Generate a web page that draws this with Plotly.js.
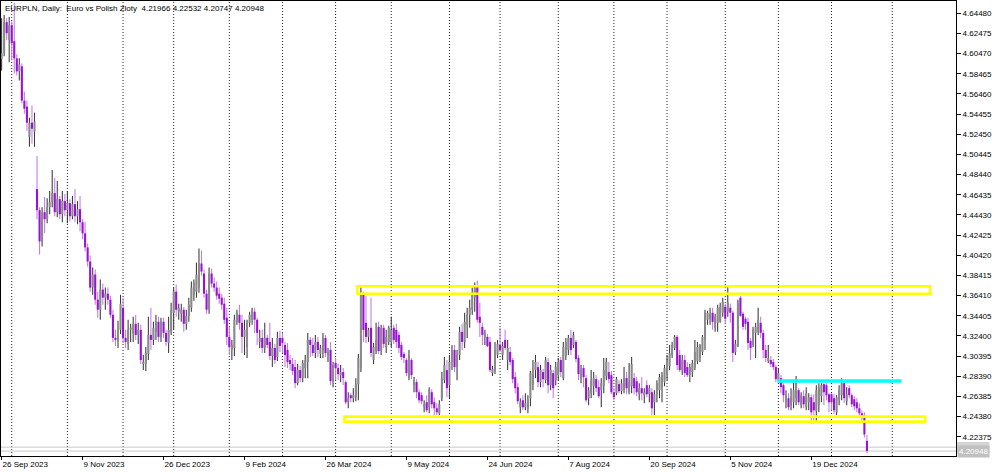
<!DOCTYPE html>
<html>
<head>
<meta charset="utf-8">
<script src="https://cdn.plot.ly/plotly-3.0.1.min.js"></script>
<style>
html,body{margin:0;padding:0;background:#fff;}
#chart{width:1000px;height:472px;}
</style>
</head>
<body>
<div id="chart"></div>
<script>
// ---------- DATA ----------
const symbolName = 'EURPLN';
const periodName = 'Daily';
const symbolDesc = 'Euro vs Polish Zloty';
const firstTradingDay = '2023-09-26';
const holidays = ['2023-12-25','2024-01-01','2024-12-25','2025-01-01'];

const openP = [
4.599,4.605,4.636,4.618,4.633,4.617,4.600,4.587,4.592,4.558,
4.552,4.522,4.536,4.527,4.470,4.449,4.418,4.447,4.440,4.452,
4.457,4.466,4.447,4.460,4.445,4.458,4.449,4.456,4.443,4.455,
4.443,4.450,4.437,4.426,4.412,4.398,4.372,4.385,4.360,4.350,
4.370,4.362,4.366,4.360,4.345,4.322,4.318,4.330,4.352,4.322,
4.316,4.330,4.326,4.336,4.325,4.330,4.296,4.296,4.306,4.325,
4.320,4.328,4.338,4.323,4.338,4.327,4.317,4.328,4.347,4.368,
4.348,4.346,4.350,4.336,4.344,4.352,4.365,4.368,4.372,4.396,
4.386,4.366,4.350,4.386,4.376,4.372,4.366,4.362,4.356,4.342,
4.323,4.310,4.312,4.338,4.345,4.337,4.323,4.313,4.337,4.340,
4.348,4.340,4.318,4.322,4.312,4.322,4.318,4.304,4.312,4.303,
4.322,4.322,4.315,4.310,4.300,4.296,4.293,4.277,4.290,4.282,
4.292,4.298,4.320,4.315,4.307,4.318,4.306,4.310,4.322,4.305,
4.310,4.279,4.297,4.292,4.285,4.288,4.278,4.258,4.265,4.262,
4.263,4.276,4.292,4.365,4.337,4.323,4.332,4.300,4.309,4.333,
4.309,4.332,4.313,4.318,4.318,4.332,4.330,4.325,4.315,4.306,
4.300,4.282,4.300,4.275,4.278,4.268,4.265,4.253,4.258,4.253,
4.268,4.258,4.252,4.247,4.262,4.280,4.290,4.275,4.298,4.310,
4.293,4.305,4.328,4.318,4.335,4.345,4.350,4.362,4.374,4.343,
4.333,4.322,4.323,4.318,4.287,4.289,4.305,4.315,4.305,4.320,
4.300,4.308,4.300,4.283,4.273,4.253,4.260,4.253,4.251,4.262,
4.275,4.290,4.293,4.278,4.288,4.280,4.298,4.275,4.287,4.280,
4.285,4.300,4.282,4.304,4.310,4.322,4.315,4.318,4.302,4.281,
4.292,4.282,4.262,4.267,4.274,4.281,4.273,4.270,4.274,4.284,
4.288,4.285,4.268,4.267,4.276,4.269,4.270,4.282,4.268,4.274,
4.282,4.279,4.266,4.272,4.265,4.275,4.266,4.268,4.258,4.266,
4.270,4.273,4.278,4.285,4.294,4.305,4.312,4.323,4.305,4.290,
4.300,4.293,4.285,4.288,4.292,4.299,4.302,4.308,4.320,4.340,
4.341,4.347,4.332,4.337,4.338,4.347,4.353,4.348,4.352,4.347,
4.308,4.314,4.362,4.346,4.341,4.338,4.319,4.315,4.327,4.328,
4.337,4.327,4.310,4.299,4.300,4.298,4.293,4.280,4.282,4.275,
4.258,4.262,4.255,4.258,4.262,4.270,4.255,4.264,4.253,4.258,
4.263,4.258,4.249,4.255,4.264,4.276,4.275,4.266,4.266,4.262,
4.248,4.260,4.265,4.277,4.259,4.272,4.265,4.261,4.258,4.252,
4.247,4.245,4.21966
];
const highP = [
4.640,4.643,4.640,4.641,4.637,4.655,4.604,4.600,4.595,4.567,
4.558,4.541,4.553,4.546,4.503,4.452,4.452,4.462,4.461,4.468,
4.489,4.481,4.478,4.463,4.468,4.465,4.468,4.460,4.463,4.470,
4.458,4.463,4.440,4.437,4.416,4.404,4.392,4.390,4.368,4.380,
4.376,4.372,4.372,4.364,4.350,4.330,4.339,4.365,4.362,4.330,
4.340,4.336,4.343,4.345,4.337,4.335,4.305,4.313,4.343,4.352,
4.338,4.345,4.343,4.342,4.342,4.330,4.343,4.357,4.372,4.375,
4.356,4.356,4.353,4.350,4.362,4.378,4.380,4.397,4.411,4.409,
4.390,4.370,4.392,4.391,4.382,4.378,4.372,4.366,4.362,4.352,
4.333,4.320,4.345,4.350,4.355,4.345,4.340,4.340,4.348,4.352,
4.352,4.342,4.330,4.330,4.337,4.325,4.337,4.322,4.316,4.328,
4.329,4.327,4.318,4.317,4.305,4.302,4.300,4.296,4.294,4.300,
4.305,4.327,4.323,4.322,4.325,4.323,4.315,4.327,4.325,4.312,
4.318,4.298,4.302,4.296,4.295,4.292,4.280,4.268,4.267,4.272,
4.282,4.306,4.372,4.368,4.364,4.332,4.362,4.317,4.337,4.338,
4.335,4.335,4.330,4.334,4.343,4.335,4.336,4.328,4.318,4.308,
4.302,4.310,4.302,4.283,4.281,4.271,4.268,4.260,4.265,4.273,
4.271,4.263,4.257,4.260,4.288,4.303,4.300,4.305,4.315,4.315,
4.310,4.333,4.336,4.347,4.352,4.360,4.372,4.377,4.379,4.357,
4.337,4.330,4.326,4.323,4.294,4.318,4.320,4.332,4.318,4.330,
4.320,4.313,4.302,4.288,4.277,4.262,4.265,4.267,4.265,4.289,
4.300,4.305,4.298,4.295,4.291,4.303,4.302,4.295,4.290,4.298,
4.302,4.303,4.318,4.322,4.325,4.330,4.328,4.320,4.305,4.295,
4.295,4.285,4.273,4.290,4.288,4.285,4.280,4.282,4.302,4.302,
4.298,4.289,4.272,4.283,4.280,4.281,4.293,4.288,4.297,4.303,
4.287,4.283,4.277,4.283,4.272,4.280,4.275,4.272,4.270,4.280,
4.286,4.288,4.295,4.305,4.315,4.318,4.325,4.325,4.310,4.305,
4.305,4.298,4.296,4.300,4.320,4.318,4.316,4.325,4.350,4.349,
4.352,4.352,4.346,4.355,4.357,4.362,4.356,4.373,4.356,4.349,
4.320,4.360,4.364,4.348,4.343,4.342,4.322,4.333,4.337,4.352,
4.343,4.330,4.315,4.315,4.304,4.301,4.295,4.292,4.285,4.277,
4.270,4.267,4.272,4.278,4.284,4.272,4.268,4.270,4.273,4.267,
4.266,4.266,4.275,4.277,4.277,4.279,4.277,4.267,4.267,4.266,
4.265,4.275,4.282,4.280,4.273,4.275,4.267,4.264,4.262,4.257,
4.250,4.248,4.22532
];
const lowP = [
4.588,4.602,4.618,4.596,4.598,4.585,4.583,4.578,4.555,4.545,
4.528,4.512,4.515,4.512,4.440,4.405,4.413,4.426,4.436,4.445,
4.452,4.443,4.442,4.440,4.437,4.443,4.436,4.438,4.440,4.437,
4.435,4.428,4.420,4.408,4.393,4.368,4.365,4.355,4.342,4.340,
4.355,4.350,4.355,4.342,4.318,4.314,4.312,4.326,4.317,4.312,
4.310,4.318,4.318,4.320,4.316,4.296,4.290,4.289,4.300,4.310,
4.315,4.320,4.318,4.318,4.322,4.314,4.307,4.325,4.330,4.343,
4.340,4.338,4.328,4.330,4.338,4.348,4.359,4.362,4.367,4.384,
4.362,4.346,4.346,4.372,4.368,4.360,4.356,4.350,4.336,4.315,
4.305,4.300,4.304,4.335,4.330,4.307,4.305,4.302,4.333,4.335,
4.327,4.315,4.312,4.307,4.307,4.312,4.300,4.293,4.296,4.299,
4.308,4.307,4.293,4.292,4.290,4.285,4.272,4.275,4.278,4.278,
4.282,4.282,4.303,4.304,4.302,4.303,4.302,4.302,4.303,4.298,
4.275,4.273,4.280,4.280,4.278,4.275,4.256,4.252,4.258,4.258,
4.259,4.260,4.288,4.318,4.317,4.318,4.303,4.296,4.306,4.306,
4.305,4.312,4.307,4.315,4.313,4.316,4.312,4.307,4.300,4.297,
4.284,4.280,4.281,4.268,4.262,4.257,4.256,4.248,4.248,4.247,
4.252,4.245,4.245,4.245,4.259,4.277,4.263,4.262,4.290,4.288,
4.280,4.300,4.310,4.312,4.322,4.332,4.345,4.348,4.337,4.323,
4.315,4.315,4.313,4.288,4.284,4.286,4.302,4.308,4.300,4.310,
4.290,4.295,4.277,4.267,4.256,4.247,4.250,4.250,4.247,4.254,
4.270,4.282,4.273,4.273,4.273,4.277,4.267,4.270,4.262,4.275,
4.280,4.283,4.280,4.300,4.305,4.305,4.312,4.298,4.280,4.277,
4.273,4.258,4.255,4.262,4.265,4.268,4.262,4.253,4.267,4.280,
4.277,4.266,4.260,4.265,4.267,4.266,4.267,4.266,4.266,4.267,
4.266,4.264,4.260,4.260,4.257,4.263,4.258,4.245,4.245,4.258,
4.262,4.258,4.274,4.280,4.290,4.302,4.310,4.290,4.288,4.285,
4.283,4.283,4.278,4.283,4.290,4.296,4.298,4.305,4.310,4.335,
4.335,4.330,4.328,4.328,4.337,4.343,4.336,4.343,4.337,4.298,
4.305,4.313,4.343,4.330,4.330,4.310,4.300,4.313,4.302,4.325,
4.322,4.302,4.298,4.297,4.293,4.290,4.278,4.278,4.267,4.258,
4.252,4.250,4.250,4.252,4.255,4.255,4.252,4.252,4.250,4.250,
4.237,4.237,4.238,4.248,4.258,4.255,4.260,4.248,4.250,4.246,
4.245,4.255,4.260,4.257,4.255,4.262,4.253,4.250,4.248,4.242,
4.238,4.223,4.20747
];
const closeP = [
4.605,4.636,4.625,4.633,4.615,4.600,4.587,4.594,4.558,4.550,
4.536,4.536,4.530,4.537,4.449,4.418,4.447,4.440,4.452,4.457,
4.466,4.447,4.460,4.445,4.458,4.449,4.456,4.443,4.455,4.443,
4.450,4.437,4.426,4.412,4.398,4.372,4.385,4.360,4.350,4.370,
4.362,4.366,4.360,4.345,4.322,4.320,4.330,4.356,4.322,4.318,
4.330,4.332,4.336,4.325,4.330,4.300,4.298,4.307,4.325,4.320,
4.332,4.338,4.323,4.338,4.327,4.318,4.330,4.350,4.368,4.350,
4.352,4.350,4.336,4.344,4.355,4.372,4.377,4.385,4.396,4.388,
4.366,4.350,4.386,4.376,4.372,4.364,4.361,4.355,4.340,4.323,
4.313,4.315,4.340,4.347,4.337,4.323,4.330,4.337,4.345,4.350,
4.340,4.327,4.322,4.312,4.322,4.315,4.304,4.312,4.300,4.322,
4.314,4.317,4.305,4.298,4.296,4.289,4.277,4.290,4.282,4.297,
4.300,4.320,4.315,4.307,4.318,4.310,4.312,4.322,4.307,4.308,
4.279,4.295,4.292,4.286,4.288,4.282,4.258,4.262,4.262,4.265,
4.276,4.302,4.365,4.330,4.323,4.330,4.307,4.313,4.320,4.309,
4.332,4.316,4.323,4.332,4.330,4.320,4.318,4.312,4.303,4.302,
4.287,4.305,4.285,4.280,4.268,4.260,4.259,4.256,4.250,4.271,
4.256,4.252,4.248,4.256,4.282,4.295,4.272,4.298,4.310,4.293,
4.305,4.328,4.318,4.338,4.345,4.352,4.365,4.372,4.340,4.337,
4.325,4.327,4.314,4.290,4.291,4.310,4.316,4.310,4.314,4.312,
4.312,4.298,4.281,4.272,4.259,4.258,4.253,4.257,4.261,4.287,
4.290,4.298,4.278,4.290,4.281,4.300,4.275,4.290,4.272,4.293,
4.298,4.288,4.313,4.318,4.322,4.310,4.325,4.301,4.286,4.290,
4.283,4.260,4.270,4.280,4.282,4.272,4.264,4.277,4.290,4.298,
4.281,4.268,4.263,4.281,4.269,4.277,4.282,4.272,4.278,4.296,
4.272,4.268,4.272,4.267,4.268,4.266,4.272,4.252,4.266,4.277,
4.283,4.285,4.292,4.300,4.307,4.315,4.323,4.295,4.290,4.300,
4.287,4.285,4.293,4.297,4.308,4.313,4.315,4.323,4.347,4.347,
4.346,4.338,4.343,4.352,4.353,4.358,4.341,4.357,4.347,4.307,
4.316,4.357,4.344,4.333,4.336,4.317,4.312,4.330,4.333,4.340,
4.327,4.310,4.302,4.302,4.296,4.293,4.281,4.287,4.273,4.265,
4.265,4.253,4.263,4.270,4.280,4.258,4.265,4.256,4.267,4.263,
4.248,4.250,4.270,4.273,4.275,4.268,4.265,4.258,4.258,4.250,
4.263,4.270,4.277,4.262,4.266,4.265,4.256,4.254,4.252,4.247,
4.243,4.226,4.20948
];

const xTickLabels = ['26 Sep 2023','9 Nov 2023','26 Dec 2023','9 Feb 2024','26 Mar 2024','9 May 2024',
  '24 Jun 2024','7 Aug 2024','20 Sep 2024','5 Nov 2024','19 Dec 2024'];
const yTickValues = [4.22375,4.24380,4.26385,4.28390,4.30395,4.32400,4.34405,4.36410,4.38415,4.40420,4.42425,
  4.44430,4.46435,4.48440,4.50445,4.52450,4.54455,4.56460,4.58465,4.60470,4.62475,4.64480];
const bidPrice = 4.20948;
const askPrice = 4.21335;

// user-drawn objects (bar-index positions, price levels)
const zoneStart = [140.6, 135.5];
const zoneEnd = [367.0, 365.0];
const zoneLow = [4.3659, 4.2387];
const zoneHigh = [4.3734, 4.2437];
const levelStart = 306.6, levelEnd = 355.7, levelPrice = 4.2791;

// ---------- BUILD ----------
const N = closeP.length;
const monthNames = ['Jan','Feb','Mar','Apr','May','Jun','Jul','Aug','Sep','Oct','Nov','Dec'];
const dates = [];
(function(){
  const d = new Date(firstTradingDay + 'T00:00:00Z');
  while (dates.length < N) {
    const wd = d.getUTCDay();
    const iso = d.toISOString().slice(0,10);
    if (wd !== 0 && wd !== 6 && holidays.indexOf(iso) < 0) dates.push(new Date(d.getTime()));
    d.setUTCDate(d.getUTCDate() + 1);
  }
})();
const fmt = d => d.getUTCDate() + ' ' + monthNames[d.getUTCMonth()] + ' ' + d.getUTCFullYear();

const xMin = -0.24, xMax = 377.2;
const yMin = 4.20456, yMax = 4.65703;

const tickVals = xTickLabels.map(lbl => dates.findIndex(d => fmt(d) === lbl));

// month grid lines
const gridIdx = [];
for (let i = 1; i < N; i++) if (dates[i].getUTCMonth() !== dates[i-1].getUTCMonth()) gridIdx.push(i);
(function(){
  const last = dates[N-1];
  let m = new Date(Date.UTC(last.getUTCFullYear(), last.getUTCMonth() + 1, 1));
  while (true) {
    const pos = (N - 1) + Math.round((m - last) / 86400000);
    if (pos > xMax) break;
    gridIdx.push(pos);
    m = new Date(Date.UTC(m.getUTCFullYear(), m.getUTCMonth() + 1, 1));
  }
})();

const up = {wx:[], wb:[], wh:[], bx:[], bb:[], bh:[]};
const dn = {wx:[], wb:[], wh:[], bx:[], bb:[], bh:[]};
for (let i = 0; i < N; i++) {
  const g = closeP[i] >= openP[i] ? up : dn;
  g.wx.push(i); g.wb.push(lowP[i]); g.wh.push(highP[i] - lowP[i]);
  const lo = Math.min(openP[i], closeP[i]);
  g.bx.push(i); g.bb.push(lo); g.bh.push(Math.max(Math.abs(closeP[i] - openP[i]), 0.0007));
}

const barTrace = (x, base, h, w, color) => ({
  type:'bar', x:x, base:base, y:h, width:w,
  marker:{color:color, line:{width:0}}, hoverinfo:'skip', showlegend:false
});

const traces = [
  barTrace(up.wx, up.wb, up.wh, 0.42, '#3a3a3a'),
  barTrace(dn.wx, dn.wb, dn.wh, 0.42, '#c37ae9'),
  barTrace(up.bx, up.bb, up.bh, 0.82, '#8a8a8a'),
  barTrace(dn.bx, dn.bb, dn.bh, 0.82, '#9a10d8')
];

const shapes = [];
gridIdx.forEach(g => shapes.push({type:'line', xref:'x', yref:'paper', x0:g, x1:g, y0:0, y1:1,
  line:{color:'#222', width:1, dash:'1px,2px'}, layer:'below'}));
[askPrice, bidPrice].forEach(p => shapes.push({type:'line', xref:'paper', yref:'y', x0:0, x1:1, y0:p, y1:p,
  line:{color:'#c8c8c8', width:1}, layer:'below'}));
for (let k = 0; k < zoneStart.length; k++) {
  shapes.push({type:'rect', xref:'x', yref:'y', x0:zoneStart[k], x1:zoneEnd[k], y0:zoneLow[k], y1:zoneHigh[k],
    line:{color:'#ffff00', width:2.6}, fillcolor:'rgba(0,0,0,0)', layer:'above'});
}
shapes.push({type:'line', xref:'x', yref:'y', x0:levelStart, x1:levelEnd, y0:levelPrice, y1:levelPrice,
  line:{color:'#00ffff', width:3.4}, layer:'above'});
// ask price tag box, mostly hidden behind the bid tag (as in the reference)
shapes.push({type:'rect', xref:'paper', yref:'y', x0:1.001, x1:1.035, y0:askPrice - 0.0052, y1:askPrice + 0.0052,
  line:{width:0}, fillcolor:'#d4d4d4', layer:'above'});

const L = N - 1;
const headText = symbolName + ', ' + periodName + ':\u00a0\u00a0' + symbolDesc + '\u00a0\u00a0' +
  openP[L].toFixed(5) + ' ' + highP[L].toFixed(5) + ' ' + lowP[L].toFixed(5) + ' ' + closeP[L].toFixed(5);

const FONT = '"Liberation Sans", Arial, sans-serif';
const annotations = [
  {xref:'paper', yref:'paper', x:0, y:1, xanchor:'left', yanchor:'top', xshift:2, yshift:-1,
   text:headText, showarrow:false, font:{family:FONT, size:8, color:'#000'}},
  {xref:'paper', yref:'y', x:1, y:bidPrice, xanchor:'left', yanchor:'middle', xshift:1,
   text:closeP[L].toFixed(5), showarrow:false, bgcolor:'#c0c0c0', borderpad:1,
   font:{family:FONT, size:8, color:'#ffffff'}}
];

const layout = {
  width:1000, height:472,
  margin:{l:1, r:44, t:1, b:16, pad:0},
  paper_bgcolor:'#ffffff', plot_bgcolor:'#ffffff',
  showlegend:false, barmode:'overlay',
  font:{family:FONT, size:8, color:'#000'},
  xaxis:{range:[xMin, xMax], showgrid:false, zeroline:false, showline:true, linecolor:'#000', linewidth:1,
    mirror:true, ticks:'outside', ticklen:3, tickcolor:'#000', tickvals:tickVals, ticktext:xTickLabels,
    ticklabelposition:'outside right', tickfont:{family:FONT, size:8, color:'#000'}, fixedrange:true},
  yaxis:{side:'right', range:[yMin, yMax], showgrid:false, zeroline:false, showline:true, linecolor:'#000',
    linewidth:1, mirror:true, ticks:'outside', ticklen:4, tickcolor:'#000', tickvals:yTickValues,
    ticktext:yTickValues.map(v => v.toFixed(5)), tickfont:{family:FONT, size:8, color:'#000'}, fixedrange:true},
  shapes:shapes,
  annotations:annotations
};

Plotly.newPlot('chart', traces, layout, {staticPlot:true, displayModeBar:false});
</script>
</body>
</html>
